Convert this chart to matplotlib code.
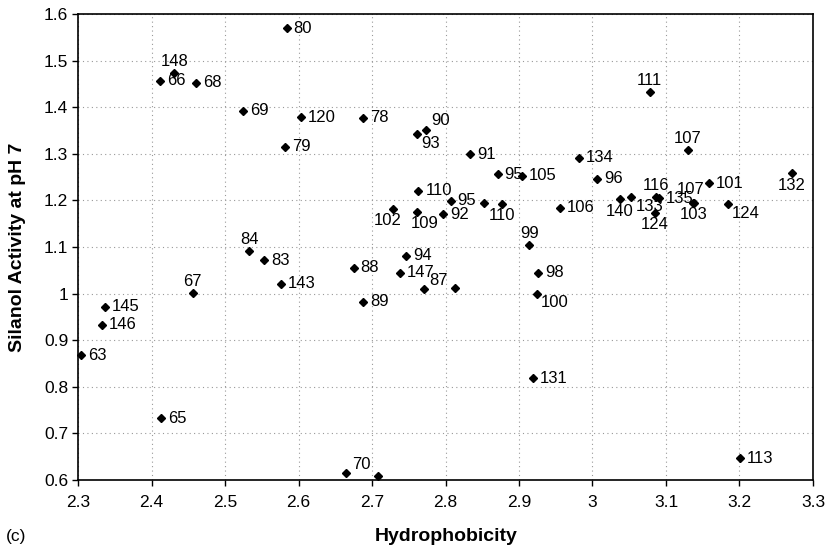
import matplotlib
matplotlib.use("Agg")
import matplotlib.pyplot as plt
from matplotlib.ticker import FuncFormatter
import numpy as np

plt.rcParams['font.family'] = ['Liberation Sans', 'DejaVu Sans']

# column ids, hydrophobicity, silanol activity at pH 7
names = ['80', '148', '66', '68', '69', '120', '79', '78', '90', '93',
         '91', '95', '105', '110', '95', '', '110', '102', '109', '92',
         '106', '134', '96', '140', '133', '116', '135', '124', '107', '103',
         '101', '124', '132', '107', '111', '99', '98', '100', '131', '113',
         '70', '', '88', '94', '147', '87', '', '89', '143', '83',
         '84', '67', '145', '146', '63', '65']
hydro = [2.584, 2.431, 2.412, 2.461, 2.525, 2.603, 2.582, 2.688, 2.773, 2.761,
         2.834, 2.871, 2.904, 2.763, 2.807, 2.852, 2.877, 2.729, 2.761, 2.797,
         2.956, 2.981, 3.006, 3.037, 3.053, 3.087, 3.090, 3.085, 3.137, 3.138,
         3.158, 3.184, 3.271, 3.130, 3.078, 2.914, 2.926, 2.924, 2.919, 3.201,
         2.665, 2.708, 2.675, 2.746, 2.738, 2.771, 2.813, 2.688, 2.576, 2.553,
         2.533, 2.456, 2.337, 2.332, 2.304, 2.413]
silanol = [1.570, 1.473, 1.457, 1.453, 1.392, 1.379, 1.315, 1.377, 1.352, 1.342,
           1.299, 1.256, 1.253, 1.221, 1.199, 1.195, 1.192, 1.181, 1.176, 1.170,
           1.184, 1.292, 1.246, 1.202, 1.207, 1.208, 1.205, 1.174, 1.195, 1.194,
           1.237, 1.192, 1.258, 1.308, 1.433, 1.104, 1.045, 0.999, 0.818, 0.647,
           0.614, 0.609, 1.056, 1.081, 1.045, 1.010, 1.013, 0.983, 1.021, 1.072,
           1.092, 1.001, 0.972, 0.933, 0.868, 0.732]
# where each data label sits: r = right, a = above, b = below, ar = above right,
# br = below right, al = above left, bl = below left, bs = below shifted right
label_pos = ['r', 'a', 'r', 'r', 'r', 'r', 'r', 'r', 'ar', 'br',
             'r', 'r', 'r', 'r', 'r', 'r', 'b', 'bl', 'bs', 'r',
             'r', 'r', 'r', 'b', 'br', 'a', 'r', 'b', 'al', 'b',
             'r', 'br', 'b', 'a', 'a', 'a', 'r', 'br', 'r', 'r',
             'ar', 'r', 'r', 'r', 'r', 'ar', 'r', 'r', 'r', 'r',
             'a', 'a', 'r', 'r', 'r', 'r']

offsets = {'r': ((5, 0), 'left', 'center'),
           'a': ((0, 3), 'center', 'bottom'),
           'b': ((0, -3), 'center', 'top'),
           'bl': ((-4, -3), 'center', 'top'),
           'bs': ((6, -3), 'center', 'top'),
           'ar': ((4, 1), 'left', 'bottom'),
           'al': ((-2, 4), 'center', 'bottom'),
           'br': ((3, -1), 'left', 'top')}

fig = plt.figure(figsize=(8.3, 5.5), dpi=100)
ax = fig.add_axes([0.094, 0.1273, 0.8855, 0.8472])

ax.plot(hydro, silanol, linestyle='none', marker='D', markersize=3.8,
        color='black', clip_on=False, zorder=3)

for n, x, y, p in zip(names, hydro, silanol, label_pos):
    if not n:
        continue
    off, ha, va = offsets[p]
    ax.annotate(n, (x, y), xytext=off, textcoords='offset points',
                ha=ha, va=va, fontsize=12, color='black', zorder=4)

fmt = FuncFormatter(lambda v, _: f"{v:.1f}".rstrip('0').rstrip('.'))
ax.set_xlim(2.3, 3.3)
ax.set_ylim(0.6, 1.6)
ax.set_xticks(np.arange(2.3, 3.31, 0.1))
ax.set_yticks(np.arange(0.6, 1.61, 0.1))
ax.xaxis.set_major_formatter(fmt)
ax.yaxis.set_major_formatter(fmt)
ax.tick_params(axis='both', labelsize=12.5, direction='out', length=4, width=1, color='black')
ax.tick_params(axis='x', pad=7)
ax.tick_params(axis='y', pad=3)

ax.grid(True, linestyle=(0, (1, 3)), color='#999999', linewidth=0.8)
ax.set_axisbelow(True)
for s in ax.spines.values():
    s.set_linewidth(1.2)
    s.set_color('black')

fig.text(0.537, 0.024, 'Hydrophobicity', ha='center', va='center',
         fontsize=14, fontweight='bold')
fig.text(0.021, 0.551, 'Silanol Activity at pH 7', ha='center', va='center',
         rotation=90, fontsize=14, fontweight='bold')
fig.text(0.007, 0.024, '(c)', ha='left', va='center', fontsize=12.5)

fig.savefig('out.png', dpi=100)
